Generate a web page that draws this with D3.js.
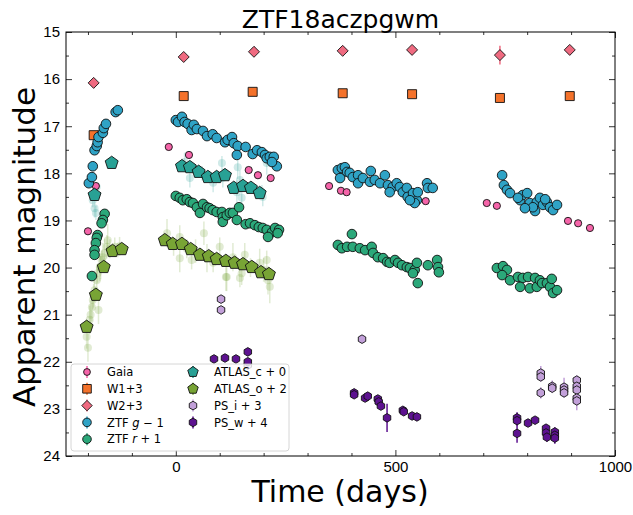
<!DOCTYPE html>
<html><head><meta charset="utf-8">
<script src="https://cdn.jsdelivr.net/npm/d3@7"></script>
<style>body{margin:0;background:#fff}svg{display:block;font-family:"DejaVu Sans",sans-serif}</style>
</head><body><svg id="c" width="633" height="515"></svg>
<script>
// ---- data (days, apparent magnitude incl. offsets) ----
const gaiaT=[-200,-182,-16,30,166,187,216,349,376,389,569,708,731,893,916,943];
const gaiaM=[19.23,18.27,17.44,17.61,17.93,18.04,18.10,18.27,18.37,18.40,18.59,18.63,18.69,19.01,19.06,19.16];
const w1T=[-187,18,175,380,538,738,897];
const w1M=[17.19,16.36,16.27,16.30,16.32,16.40,16.36];
const w2T=[-187,18,178,380,538,738,897];
const w2M=[16.08,15.53,15.42,15.40,15.38,15.49,15.38];
const w2E=[0.03,0.08,0.05,0.04,0.04,0.2,0.05];
const ztfgT=[-198,-191,-189,-185,-180,-178,-176,-166,-164,-159,-137,-132,
 0,5,14,20,27,36,41,48,62,71,84,93,112,118,128,132,141,139,159,175,185,196,203,207,214,223,230,219,
 369,378,385,390,374,396,403,415,415,426,444,442,453,465,476,483,494,503,510,487,517,526,528,540,549,551,544,533,572,574,585,
 743,747,754,761,784,790,800,779,806,818,822,829,836,845,852,859,868,841,813,795];
const ztfgM=[18.21,18.08,17.85,17.51,17.42,17.34,17.23,17.14,17.04,16.95,16.70,16.66,
 16.87,16.91,16.80,16.91,16.95,17.08,16.97,17.06,17.10,17.21,17.17,17.25,17.34,17.29,17.23,17.36,17.42,17.61,17.44,17.59,17.51,17.55,17.61,17.68,17.65,17.65,17.85,17.76,
 17.93,17.89,17.87,17.97,18.10,17.99,18.08,18.04,18.21,18.10,17.95,18.18,18.14,18.21,18.04,18.25,18.29,18.21,18.29,18.40,18.40,18.31,18.50,18.42,18.57,18.40,18.63,18.57,18.21,18.31,18.31,
 18.04,18.25,18.35,18.42,18.57,18.46,18.42,18.52,18.63,18.80,18.61,18.52,18.67,18.61,18.72,18.78,18.67,18.55,18.72,18.74];
const ztfrT=[-162,-166,-169,-178,-180,-182,-185,-185,-191,
 0,9,16,25,32,39,48,55,62,71,77,84,93,105,107,107,116,123,130,139,144,159,169,180,189,198,207,219,226,235,232,210,
 401,369,378,390,403,419,431,446,449,460,472,481,487,499,506,515,526,533,544,549,551,540,574,595,597,599,
 731,745,754,743,761,779,790,802,806,818,822,829,834,845,852,856,859,868,784];
const ztfrM=[18.86,18.99,19.06,19.31,19.37,19.48,19.63,19.73,20.18,
 18.48,18.52,18.57,18.55,18.61,18.63,18.72,18.84,18.65,18.72,18.74,18.78,18.82,18.82,18.93,19.03,18.89,18.84,18.84,18.99,18.72,19.08,19.06,19.10,19.14,19.16,19.20,19.25,19.16,19.20,19.27,19.35,
 19.29,19.52,19.59,19.56,19.56,19.59,19.63,19.56,19.69,19.78,19.80,19.88,19.90,19.84,19.90,19.95,19.99,20.01,20.05,19.90,20.33,20.12,19.95,19.84,19.99,20.10,
 20.01,19.97,20.05,20.16,20.27,20.20,20.22,20.20,20.44,20.22,20.41,20.27,20.33,20.33,20.41,20.24,20.54,20.48,20.41];
const atlcT=[-185,-146,14,32,52,73,93,112,132,153,171,191];
const atlcM=[18.46,17.78,17.85,17.87,17.97,18.08,18.08,18.04,18.31,18.27,18.31,18.42];
const atloT=[-203,-182,-164,-144,-123,-25,-7,14,34,55,75,93,114,134,153,173,194,212];
const atloM=[21.26,20.58,19.99,19.65,19.61,19.42,19.50,19.50,19.61,19.73,19.76,19.82,19.86,19.90,19.93,19.99,20.10,20.14];
// individual (unbinned) ATLAS detections, drawn faint
const atlcRawT=[-189,-185,-182,-180,20,32,105,107,141,146,139,150,196,198,207,60,85];
const atlcRawM=[18.57,18.74,18.84,18.29,17.76,18.10,17.78,18.10,17.87,18.14,18.40,18.52,18.40,18.50,17.78,18.0,18.2];
const atlcRawE=[0.15,0.2,0.15,0.1,0.2,0.2,0.15,0.2,0.25,0.2,0.25,0.2,0.15,0.2,0.25,0.15,0.2];
const atloRawT=[-203,-196,-191,-189,-185,-180,-178,-173,-169,-166,-157,-155,-139,-132,-162,-20,9,9,36,64,71,100,114,130,150,116,146,157,191,207,214,210,-200,-176,-194,-187,-171,-150,-128,-5,25,45,85,170,200];
const atloRawM=[21.47,21.11,20.84,20.69,20.48,20.27,20.12,19.99,19.84,19.78,19.56,19.42,19.56,19.63,19.69,19.27,19.35,19.80,19.84,19.27,19.80,19.56,20.20,19.78,20.12,20.20,20.22,19.73,19.90,19.84,20.41,20.27,21.7,20.9,21.0,20.6,20.0,19.6,19.55,19.55,19.6,19.65,19.9,20.0,20.05];
const atloRawE=[0.25,0.3,0.3,0.2,0.25,0.3,0.2,0.3,0.2,0.3,0.25,0.35,0.2,0.15,0.3,0.3,0.25,0.3,0.2,0.25,0.3,0.2,0.3,0.3,0.25,0.3,0.2,0.25,0.3,0.2,0.35,0.3,0.3,0.3,0.3,0.25,0.25,0.2,0.2,0.2,0.2,0.25,0.2,0.2,0.25];
const psiT=[103,103,164,424,831,831,831,857,857,884,884,884,913,913,913,913,913];
const psiM=[20.67,20.90,22.07,21.52,22.24,22.32,22.66,22.52,22.56,22.54,22.60,22.66,22.39,22.52,22.60,22.77,22.83];
const psiE=[0.03,0.03,0.1,0.04,0.15,0.1,0.12,0.12,0.1,0.2,0.15,0.1,0.1,0.12,0.15,0.15,0.2];
const pswT=[87,112,137,164,164,406,406,431,437,460,462,467,481,517,519,538,549,777,777,777,802,818,843,843,845,863,863,863];
const pswM=[21.94,21.92,21.94,21.79,22.00,22.66,22.70,22.77,22.73,22.79,22.85,22.94,23.19,23.03,23.06,23.15,23.17,23.19,23.25,23.52,23.30,23.24,23.41,23.51,23.60,23.49,23.56,23.62];
const pswE=[0.03,0.03,0.03,0.03,0.05,0.04,0.04,0.04,0.04,0.05,0.05,0.05,0.3,0.05,0.05,0.08,0.06,0.12,0.1,0.2,0.05,0.05,0.08,0.08,0.1,0.1,0.1,0.12];
const xTicks=[0,500,1000];
const yTicks=[15,16,17,18,19,20,21,22,23,24];
const legendLabels=["Gaia","W1+3","W2+3","ZTF g\u22121","ZTF r+1","ATLAS_c + 0","ATLAS_o + 2","PS_i + 3","PS_w + 4"];

// ---- layout ----
const svg=d3.select("#c");
const L=66,R=615,T=32,B=456;
const x=d3.scaleLinear([-250,1000],[L,R]);
const y=d3.scaleLinear([15,24],[T,B]);

const col={gaia:"#f564a9",w1:"#f4722b",w2:"#ef6a80",g:"#2fa3c6",r:"#2ba87a",c:"#28a195",o:"#78a435",psi:"#c2a0d9",psw:"#5d1290"};

function poly(n,r){const p=[];for(let i=0;i<n;i++){const a=-Math.PI/2+i*2*Math.PI/n;p.push([r*Math.cos(a),r*Math.sin(a)]);}return "M"+p.map(d=>d.join(",")).join("L")+"Z";}
const shapes={
 circle:r=>d3.symbol(d3.symbolCircle,Math.PI*r*r)(),
 square:r=>`M${-r},${-r}H${r}V${r}H${-r}Z`,
 diamond:r=>`M0,${-r}L${r},0L0,${r}L${-r},0Z`,
 pent:r=>poly(5,r),
 hex:r=>poly(6,r)
};

svg.append("defs").append("clipPath").attr("id","cp").append("rect").attr("x",L).attr("y",T).attr("width",R-L).attr("height",B-T);
const plot=svg.append("g").attr("clip-path","url(#cp)");

function series(T_,M_,E_,shape,r,fill,opts={}){
  const g=plot.append("g");
  const data=T_.map((t,i)=>({t,m:M_[i],e:E_?E_[i]:0}));
  const a=opts.alpha??1;
  g.selectAll("line").data(data.filter(d=>d.e>0)).join("line")
   .attr("x1",d=>x(d.t)).attr("x2",d=>x(d.t))
   .attr("y1",d=>y(d.m-d.e)).attr("y2",d=>y(d.m+d.e))
   .attr("stroke",fill).attr("stroke-opacity",a).attr("stroke-width",opts.ew??1.5);
  g.selectAll("path").data(data).join("path")
   .attr("transform",d=>`translate(${x(d.t)},${y(d.m)})`)
   .attr("d",shapes[shape](r)).attr("fill",fill).attr("fill-opacity",a)
   .attr("stroke",opts.noEdge?"none":"#111").attr("stroke-width",opts.sw??0.9);
}
// faint raw ATLAS detections
series(atloRawT,atloRawM,atloRawE,"circle",4,col.o,{alpha:0.22,noEdge:true,ew:1.5});
series(atlcRawT,atlcRawM,atlcRawE,"circle",4,col.c,{alpha:0.22,noEdge:true,ew:1.5});

series(gaiaT,gaiaM,null,"circle",3.6,col.gaia);
series(w1T,w1M,null,"square",4.5,col.w1);
series(w2T,w2M,w2E,"diamond",5.5,col.w2);
series(ztfgT,ztfgM,null,"circle",4.8,col.g);
series(ztfrT,ztfrM,null,"circle",4.8,col.r);
series(atlcT,atlcM,null,"pent",6.8,col.c);
series(atloT,atloM,null,"pent",6.8,col.o);
series(psiT,psiM,psiE,"hex",4.3,col.psi);
series(pswT,pswM,pswE,"hex",4.3,col.psw);

// ---- axes ----
const ax=svg.append("g").attr("font-family","DejaVu Sans");
function styleAxis(g){g.select(".domain").remove();g.selectAll(".tick line").attr("stroke","#000").attr("stroke-width",0.8);g.selectAll("text").attr("font-size",15).attr("fill","#000");}
const minorX=d3.range(-200,1001,100).filter(v=>v%500);
const minorY=d3.range(15.5,24,1);
ax.append("g").attr("transform",`translate(0,${B})`).call(d3.axisBottom(x).tickValues(xTicks).tickSize(-6).tickPadding(5.5).tickFormat(d3.format("d"))).call(styleAxis);
ax.append("g").attr("transform",`translate(0,${B})`).call(d3.axisBottom(x).tickValues(minorX).tickSize(-3).tickFormat("")).call(styleAxis);
ax.append("g").attr("transform",`translate(0,${T})`).call(d3.axisTop(x).tickValues(xTicks).tickSize(-6).tickFormat("")).call(styleAxis);
ax.append("g").attr("transform",`translate(0,${T})`).call(d3.axisTop(x).tickValues(minorX).tickSize(-3).tickFormat("")).call(styleAxis);
ax.append("g").attr("transform",`translate(${L},0)`).call(d3.axisLeft(y).tickValues(yTicks).tickSize(-6).tickPadding(6).tickFormat(d3.format("d"))).call(styleAxis);
ax.append("g").attr("transform",`translate(${L},0)`).call(d3.axisLeft(y).tickValues(minorY).tickSize(-3).tickFormat("")).call(styleAxis);
ax.append("g").attr("transform",`translate(${R},0)`).call(d3.axisRight(y).tickValues(yTicks).tickSize(-6).tickFormat("")).call(styleAxis);
ax.append("g").attr("transform",`translate(${R},0)`).call(d3.axisRight(y).tickValues(minorY).tickSize(-3).tickFormat("")).call(styleAxis);
svg.append("rect").attr("x",L).attr("y",T).attr("width",R-L).attr("height",B-T).attr("fill","none").attr("stroke","#000").attr("stroke-width",1);

// ---- titles ----
svg.append("text").attr("x",(L+R)/2).attr("y",28).attr("text-anchor","middle").attr("font-size",25).text("ZTF18aczpgwm");
svg.append("text").attr("x",340).attr("y",502).attr("text-anchor","middle").attr("font-size",30).text("Time (days)");
svg.append("text").attr("transform",`translate(35,247) rotate(-90)`).attr("text-anchor","middle").attr("font-size",31).text("Apparent magnitude");

// ---- legend ----
const lg=svg.append("g");
lg.append("rect").attr("x",71).attr("y",364).attr("width",218).attr("height",87).attr("rx",3)
  .attr("fill","#fff").attr("fill-opacity",0.8).attr("stroke","#ccc").attr("stroke-width",0.8);
const lshape=[["circle",3.4,col.gaia],["square",4.3,col.w1],["diamond",5.2,col.w2],["circle",4.3,col.g],["circle",4.3,col.r],["pent",5.5,col.c],["pent",5.5,col.o],["hex",4.3,col.psi],["hex",4.3,col.psw]];
legendLabels.forEach((lab,i)=>{
  const c=i<5?0:1, rI=i<5?i:i-5;
  const mx=c?193:87, tx=c?214:107, yy=372+rI*16.8;
  const gi=lg.append("g");
  gi.append("line").attr("x1",mx).attr("x2",mx).attr("y1",yy-6).attr("y2",yy+6).attr("stroke",lshape[i][2]).attr("stroke-width",1.5);
  gi.append("path").attr("transform",`translate(${mx},${yy})`).attr("d",shapes[lshape[i][0]](lshape[i][1])).attr("fill",lshape[i][2]).attr("stroke","#111").attr("stroke-width",0.9);
  const t=gi.append("text").attr("x",tx).attr("y",yy+4.2).attr("font-size",11.5);
  if(i===3||i===4){
    t.append("tspan").text("ZTF ");
    t.append("tspan").attr("font-style","italic").text(i===3?"g":"r");
    t.append("tspan").text(i===3?" \u2212 1":" + 1");
  } else t.text(lab);
});
</script></body></html>
